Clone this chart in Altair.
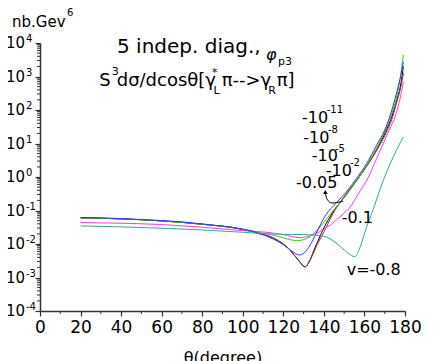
import altair as alt
import pandas as pd

FONT = "DejaVu Sans"

# ---- data ----
blue_theta = [20, 30, 40, 50, 60, 70, 80, 90, 100, 105, 110, 115, 120, 124, 128, 131, 134, 137, 141, 146, 151, 156, 161, 166, 170, 174, 176, 178, 179.2]
blue_val = [0.0617, 0.0603, 0.0575, 0.0537, 0.0501, 0.0457, 0.0398, 0.0339, 0.0275, 0.024, 0.019, 0.0141, 0.00955, 0.0063, 0.00468, 0.006, 0.0112, 0.0263, 0.0741, 0.166, 0.355, 0.891, 2.51, 8.91, 25.1, 126, 355, 1120, 2750]

green_theta = [20, 40, 60, 80, 100, 110, 118, 122, 126.6, 131, 135, 139.7, 144.6, 149, 154, 159, 164, 168, 171, 173.5, 175.5, 177.5, 179.2]
green_val = [0.0603, 0.0562, 0.049, 0.0389, 0.0275, 0.0209, 0.0166, 0.0141, 0.0126, 0.0141, 0.0209, 0.0417, 0.1, 0.2, 0.501, 1.41, 4.47, 12.6, 31.6, 79.4, 200, 794, 4370]

brown_theta = [20, 40, 60, 80, 100, 110, 113.4, 118.3, 123.3, 127, 130.7, 133, 134.8, 137, 139.7, 144.6, 148.8, 153, 158, 163, 168, 171, 173.4, 176, 178, 179.2]
brown_val = [0.0603, 0.0562, 0.049, 0.0389, 0.0275, 0.019, 0.0166, 0.0117, 0.0066, 0.00355, 0.00209, 0.00316, 0.00525, 0.0105, 0.0209, 0.0832, 0.204, 0.447, 1.12, 3.16, 10, 22.4, 50.1, 178, 501, 1260]

black_theta = [20, 40, 60, 80, 100, 110, 113.4, 118.3, 123.3, 127, 130.7, 133, 135, 137.5, 140, 144.6, 149, 154, 159, 164, 168, 171, 173.5, 176, 178, 179.2]
black_val = [0.0603, 0.0562, 0.049, 0.0389, 0.0275, 0.019, 0.0166, 0.0117, 0.0066, 0.00355, 0.00209, 0.00316, 0.0063, 0.0141, 0.0302, 0.0912, 0.209, 0.525, 1.38, 3.98, 11.2, 26.3, 63.1, 200, 631, 2000]

magenta_theta = [20, 40, 60, 80, 100, 113.4, 120, 128.2, 133, 138, 142, 146.3, 149.6, 152.9, 157, 162, 166, 170, 173, 175.1, 177, 178.3, 179.2]
magenta_val = [0.0437, 0.0417, 0.038, 0.0316, 0.0251, 0.0219, 0.019, 0.0155, 0.0174, 0.0234, 0.0331, 0.0525, 0.0794, 0.126, 0.316, 1.0, 3.55, 12.6, 31.6, 63.0, 158, 355, 708]

teal_theta = [20, 40, 60, 80, 100, 110, 120, 130, 136, 140, 144, 148, 152, 155.3, 157.8, 161, 164.4, 169.3, 174.2, 179.2]
teal_val = [0.0347, 0.0324, 0.0295, 0.0263, 0.0224, 0.0204, 0.0195, 0.0191, 0.0182, 0.017, 0.0132, 0.0085, 0.00525, 0.00417, 0.00794, 0.0316, 0.112, 0.794, 3.98, 15.8]

series = [
    ("black", black_theta, black_val, "#000000"),
    ("brown", brown_theta, brown_val, "#993333"),
    ("magenta", magenta_theta, magenta_val, "#ff33ff"),
    ("green", green_theta, green_val, "#33cc00"),
    ("blue", blue_theta, blue_val, "#3333ff"),
    ("teal", teal_theta, teal_val, "#33a6a6"),
]

x_ticks = [0, 20, 40, 60, 80, 100, 120, 140, 160, 180]
x_minor = [10, 30, 50, 70, 90, 110, 130, 150, 170]
y_exps = [-4, -3, -2, -1, 0, 1, 2, 3, 4]
y_major = [1e-4, 1e-3, 1e-2, 1e-1, 1, 10, 100, 1000, 10000]
y_minor = [m * 10.0 ** e for e in range(-4, 4) for m in range(2, 10)]

arrow_theta = [149.4, 144.0, 141.5, 140.8]
arrow_val = [0.192, 0.167, 0.22, 0.311]
arrow_head_theta = [140.7]
arrow_head_val = [0.355]

W, H = 365, 268
xscale = alt.Scale(domain=[0, 180], nice=False, zero=False)
yscale = alt.Scale(type="log", domain=[1e-4, 1e4], nice=False)

X = lambda f: alt.X(f, type="quantitative", scale=xscale,
                    axis=alt.Axis(values=x_ticks, title="θ(degree)", grid=False,
                                  labelFont=FONT, labelFontSize=17, labelColor="#000",
                                  tickSize=5, labelPadding=3, tickColor="#333",
                                  domainColor="#333", domainWidth=1.5, tickWidth=1.2,
                                  titleFont=FONT, titleFontSize=16, titleFontWeight="normal",
                                  titlePadding=14, titleColor="#000", labelFlush=False))
Y = lambda f: alt.Y(f, type="quantitative", scale=yscale,
                    axis=alt.Axis(values=y_major, labels=False, title=None, grid=False,
                                  tickSize=5, tickColor="#333", domainColor="#333",
                                  domainWidth=1.5, tickWidth=1.2))

layers = []
for name, th, vals, col in series:
    df = pd.DataFrame({"theta": th, "v": vals})
    layers.append(alt.Chart(df).mark_line(color=col, strokeWidth=1, interpolate="monotone")
                  .encode(x=X("theta"), y=Y("v")))

# minor ticks
dfxm = pd.DataFrame({"theta": x_minor})
layers.append(alt.Chart(dfxm).mark_rule(color="#333", strokeWidth=1)
              .encode(x=X("theta"), y=alt.value(H), y2=alt.value(H + 3)))
dfym = pd.DataFrame({"v": y_minor})
layers.append(alt.Chart(dfym).mark_rule(color="#333", strokeWidth=1)
              .encode(y=Y("v"), x=alt.value(-3), x2=alt.value(0)))

# y tick labels 10^n
dfyl = pd.DataFrame({"v": y_major, "e": [str(e) for e in y_exps], "b": ["10"] * len(y_exps)})
layers.append(alt.Chart(dfyl).mark_text(font=FONT, fontSize=15, align="right", baseline="middle", color="#000")
              .encode(y=Y("v"), x=alt.value(-15), text="b:N"))
layers.append(alt.Chart(dfyl).mark_text(font=FONT, fontSize=10, align="left", baseline="alphabetic", dy=-1, color="#000")
              .encode(y=Y("v"), x=alt.value(-14), text="e:N"))

# arrow for -0.05
dfa = pd.DataFrame({"theta": arrow_theta, "v": arrow_val})
layers.append(alt.Chart(dfa).mark_line(color="#000", strokeWidth=1, interpolate="monotone")
              .encode(x=X("theta"), y=Y("v")))
dfah = pd.DataFrame({"theta": arrow_head_theta, "v": arrow_head_val})
layers.append(alt.Chart(dfah).mark_point(shape="triangle-up", filled=True, size=22, color="#000", opacity=1)
              .encode(x=X("theta"), y=Y("v")))


def txt(t, x, y, size, style="normal"):
    return (alt.Chart(pd.DataFrame({"t": [t]}))
            .mark_text(font=FONT, fontSize=size, fontStyle=style, align="left",
                       baseline="alphabetic", color="#000")
            .encode(x=alt.value(x), y=alt.value(y), text="t:N"))


texts = [
    # y-axis unit
    ("nb.Gev", -28, -16, 15, "normal"), ("6", 27, -27, 10, "normal"),
    # title line 1
    ("5 indep. diag., ", 77, 10, 20, "normal"), ("φ", 226, 17, 16, "italic"), ("p3", 238, 22, 11, "normal"),
    # title line 2
    ("S", 59.3, 43, 18, "normal"), ("3", 71.7, 32, 11, "normal"), ("dσ/dcosθ[γ", 76.7, 43, 18, "normal"),
    ("*", 172, 33, 11, "normal"), ("L", 173.5, 51, 11, "normal"), ("π-->γ", 181.7, 43, 18, "normal"),
    ("R", 228.3, 51, 11, "normal"), ("π]", 236.7, 43, 18, "normal"),
    # curve labels
    ("-10", 262, 80, 16, "normal"), ("-11", 286.7, 70, 10, "normal"),
    ("-10", 263.3, 100.3, 16, "normal"), ("-8", 288, 90, 10, "normal"),
    ("-10", 271.7, 118, 16, "normal"), ("-5", 295, 108.7, 10, "normal"),
    ("-10", 285.7, 133, 16, "normal"), ("-2", 310, 122.7, 10, "normal"),
    ("-0.05", 256, 145.3, 16, "normal"),
    ("-0.1", 301.7, 180.3, 16, "normal"),
    ("v=-0.8", 306.7, 232, 16, "normal"),
]
for t, x, y, s, st in texts:
    layers.append(txt(t, x, y, s, st))

chart = (alt.layer(*layers)
         .properties(width=W, height=H, background="white",
                     padding={"left": 32, "top": 35, "right": 30, "bottom": 60},
                     autosize=alt.AutoSizeParams(type="none"))
         .configure_view(stroke=None))

chart.save("out.html", embed_options={"renderer": "svg", "actions": False})
